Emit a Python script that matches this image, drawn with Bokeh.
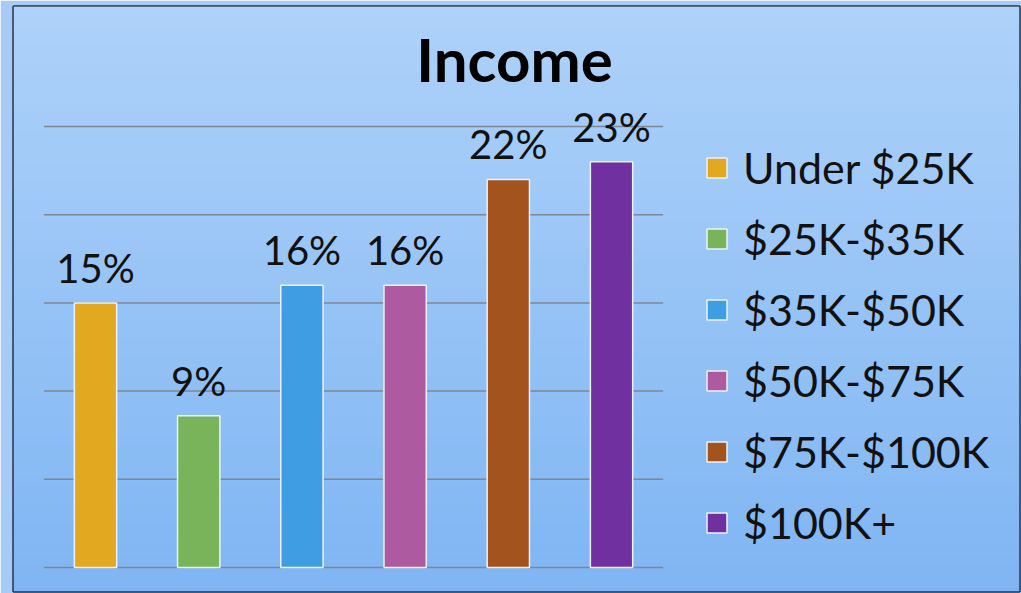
from bokeh.plotting import figure
from bokeh.models import ColumnDataSource, Range1d, Legend, LegendItem
from bokeh.core.properties import value
from bokeh.embed import file_html
from bokeh.resources import INLINE

categories = ["Under $25K", "$25K-$35K", "$35K-$50K", "$50K-$75K", "$75K-$100K", "$100K+"]
values = [15, 8.6, 16, 16, 22, 23]
colors = ["#e2a81f", "#79b45a", "#3f9de3", "#ad5aa1", "#a3541e", "#7030a0"]
y_ticks = [0, 5, 10, 15, 20, 25]
title_text = "Income"

x = list(range(len(categories)))
labels = [f"{round(v)}%" for v in values]
src = ColumnDataSource(dict(x=x, top=values, color=colors, cat=categories, label=labels))

Y0, Y1 = -1.36, 31.80
X0, X1 = -0.7946, 8.953
p = figure(width=1021, height=593, output_backend="svg", toolbar_location=None,
           x_range=Range1d(X0, X1), y_range=Range1d(Y0, Y1),
           min_border_left=13, min_border_top=6, min_border_right=2, min_border_bottom=2)
p.axis.visible = False
p.grid.visible = False
p.outline_line_color = "#26344a"
p.outline_line_width = 2.5
p.background_fill_color = "#98c4f6"
p.border_fill_color = "#a6cbf7"

# vertical gradient background
n = 60
top_rgb = (0xae, 0xd2, 0xf9)
bot_rgb = (0x7f, 0xb5, 0xf3)
bands_b, bands_t, bands_c = [], [], []
for k in range(n):
    f = (k + 0.5) / n
    r, g, b = (int(round(bot_rgb[j] + (top_rgb[j] - bot_rgb[j]) * f)) for j in range(3))
    bands_b.append(Y0 + (Y1 - Y0) * k / n)
    bands_t.append(Y0 + (Y1 - Y0) * (k + 1) / n + 0.02)
    bands_c.append(f"#{r:02x}{g:02x}{b:02x}")
p.quad(left=X0, right=X1, bottom=bands_b, top=bands_t, fill_color=bands_c, line_color=None)

# gridlines
p.segment(x0=-0.5, y0=y_ticks, x1=5.5, y1=y_ticks, line_color="#7d8794", line_width=1.5)

bars = p.vbar(x="x", top="top", bottom=0, width=0.41, fill_color="color",
              line_color="#eaf2fc", line_width=1.5, source=src)

p.text(x="x", y="top", text="label", text_align="center", text_baseline="bottom",
       y_offset=-11, text_font=value("Lato"), text_font_size="40px",
       text_color="#111111", source=src)

p.text(x=[4.06], y=[28.85], text=[title_text], text_align="center", text_baseline="middle",
       text_font=value("Lato"), text_font_style="bold", text_font_size="60px",
       text_color="#000000")

items = [LegendItem(label=c, renderers=[bars], index=i) for i, c in enumerate(categories)]
legend = Legend(items=items, location=(691, 43), glyph_width=25, glyph_height=25,
                label_text_font="Lato", label_text_font_size="43px", label_standoff=14,
                spacing=20, padding=0, margin=0, border_line_color=None,
                background_fill_alpha=0, label_text_color="#111111")
p.add_layout(legend, "center")

open("out.html", "w").write(file_html(p, INLINE))
